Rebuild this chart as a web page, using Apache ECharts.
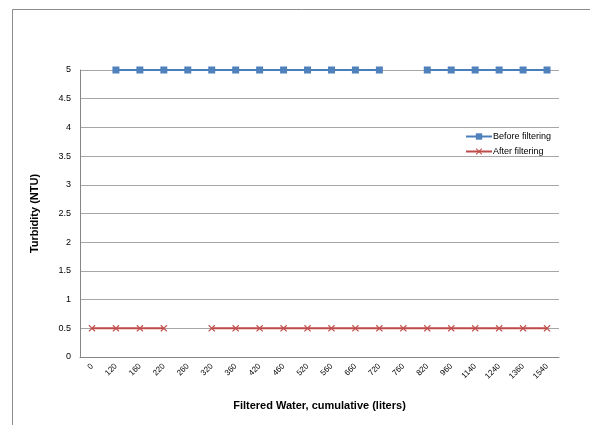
<!DOCTYPE html>
<html>
<head>
<meta charset="utf-8">
<script src="https://cdn.jsdelivr.net/npm/echarts@6/dist/echarts.min.js"></script>
<style>
html,body{margin:0;padding:0;background:#fff;}
#chart{width:590px;height:425px;}
</style>
</head>
<body>
<div id="chart"></div>
<script>
const categories = ['0','120','160','220','260','320','360','420','460','520','560','660','720','760','820','960','1140','1240','1360','1540'];
const beforeFiltering = [null,5,5,5,5,5,5,5,5,5,5,5,5,null,5,5,5,5,5,5];
const afterFiltering = [0.5,0.5,0.5,0.5,null,0.5,0.5,0.5,0.5,0.5,0.5,0.5,0.5,0.5,0.5,0.5,0.5,0.5,0.5,0.5];
const yTicks = ['0','0.5','1','1.5','2','2.5','3','3.5','4','4.5','5'];

const FONT = 'Liberation Sans';
const xSymbol = 'path://M0,1.2L1.2,0L5,3.8L8.8,0L10,1.2L6.2,5L10,8.8L8.8,10L5,6.2L1.2,10L0,8.8L3.8,5Z';

const chart = echarts.init(document.getElementById('chart'));
chart.setOption({
  animation: false,
  backgroundColor: '#fff',
  textStyle: { fontFamily: FONT },
  graphic: [
    { type: 'line', shape: { x1: 12.5, y1: 9.5, x2: 590, y2: 9.5 }, style: { stroke: '#8c8c8c', lineWidth: 1 } },
    { type: 'line', shape: { x1: 12.5, y1: 9.5, x2: 12.5, y2: 425 }, style: { stroke: '#8c8c8c', lineWidth: 1 } }
  ],
  grid: { left: 80, right: 31, top: 70, bottom: 68 },
  legend: {
    orient: 'vertical',
    left: 460,
    top: 127,
    itemWidth: 26,
    itemHeight: 8,
    itemGap: 6,
    textStyle: { fontFamily: FONT, fontSize: 9, color: '#000', padding: [0,0,0,-4] },
    data: ['Before filtering', 'After filtering']
  },
  xAxis: {
    type: 'category',
    data: categories,
    boundaryGap: true,
    name: 'Filtered Water, cumulative (liters)',
    nameLocation: 'middle',
    nameGap: 43,
    nameTextStyle: { fontFamily: FONT, fontSize: 11, fontWeight: 'bold', color: '#000' },
    axisLine: { lineStyle: { color: '#868686', width: 1 } },
    axisTick: { show: false },
    axisLabel: { interval: 0, rotate: 45, fontSize: 8, color: '#000', margin: 8, fontFamily: FONT },
    splitLine: { show: false }
  },
  yAxis: {
    type: 'value',
    min: 0,
    max: 5,
    interval: 0.5,
    name: 'Turbidity (NTU)',
    nameLocation: 'middle',
    nameGap: 40,
    nameRotate: 90,
    nameTextStyle: { fontFamily: FONT, fontSize: 11, fontWeight: 'bold', color: '#000' },
    axisLine: { show: true, lineStyle: { color: '#868686', width: 1 } },
    axisTick: { show: false },
    axisLabel: {
      fontSize: 9, color: '#000', margin: 9, fontFamily: FONT,
      formatter: function (v) { const i = Math.round(v / 0.5); return yTicks[i] !== undefined ? yTicks[i] : ''; }
    },
    splitLine: { show: true, lineStyle: { color: '#a6a6a6', width: 1 } }
  },
  series: [
    {
      name: 'Before filtering',
      type: 'line',
      data: beforeFiltering,
      connectNulls: false,
      symbol: 'rect',
      symbolSize: 7,
      lineStyle: { color: '#4a7ebb', width: 2 },
      itemStyle: { color: '#4f81bd' }
    },
    {
      name: 'After filtering',
      type: 'line',
      data: afterFiltering,
      connectNulls: false,
      symbol: xSymbol,
      symbolSize: 7,
      lineStyle: { color: '#be4b48', width: 2 },
      itemStyle: { color: '#c0504d' }
    }
  ]
});
</script>
</body>
</html>
